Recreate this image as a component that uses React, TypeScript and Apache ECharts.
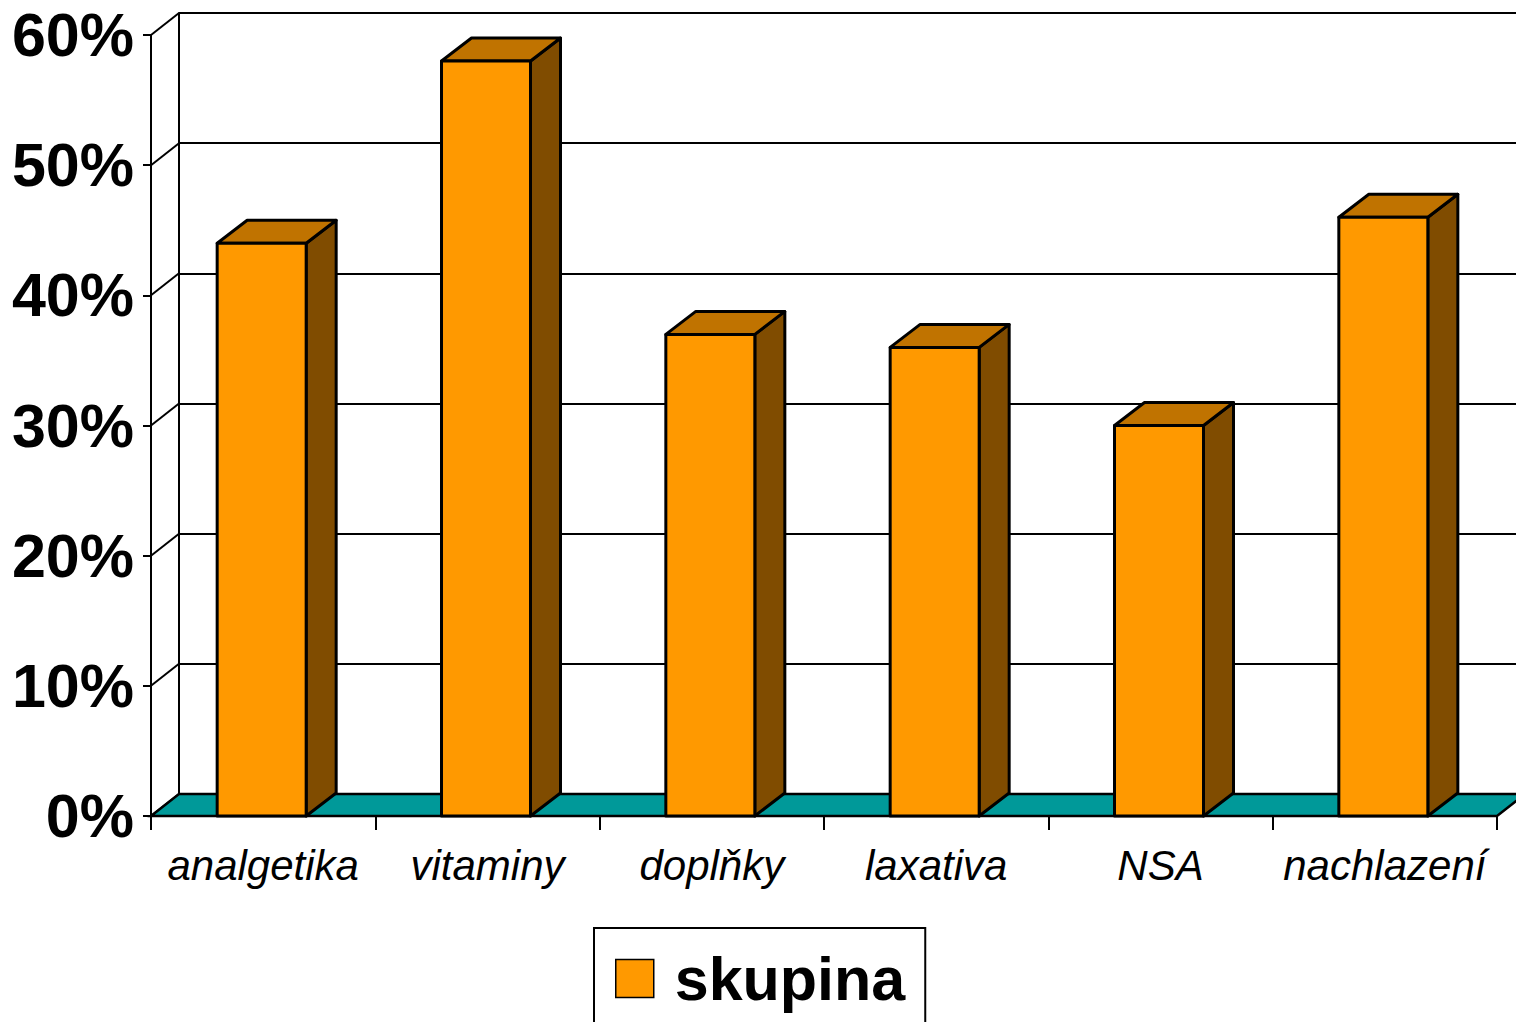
import React, { useEffect, useRef } from "react";
import * as echarts from "echarts";

const categories = ["analgetika", "vitaminy", "doplňky", "laxativa", "NSA", "nachlazení"];
const values = [44, 58, 37, 36, 30, 46];
const tickValues = [0, 10, 20, 30, 40, 50, 60];
const seriesName = "skupina";

const FONT = "'Liberation Sans', Arial, Helvetica, sans-serif";
const FRONT = "#FF9900";
const SIDE = "#804C00";
const TOP = "#C07300";
const FLOOR = "#009999";
const WALL_DX = 28;
const WALL_DY = -22;
const BAR_DX = 30;
const BAR_DY = -23;
const BAR_W = 89;

export default function App() {
  const ref = useRef<HTMLDivElement>(null);
  useEffect(() => {
    document.body.style.margin = "0";
    document.body.style.overflow = "hidden";
    const chart = echarts.init(ref.current!, null, { renderer: "svg" });
    const option: any = {
      animation: false,
      backgroundColor: "#ffffff",
      grid: [
        { left: 151, top: 35, width: 1346, height: 781, containLabel: false },
        { left: 151 + WALL_DX, top: 35 + WALL_DY, width: 1346, height: 781, containLabel: false },
      ],
      legend: {
        data: [seriesName],
        left: 594,
        top: 928,
        orient: "horizontal",
        icon: "rect",
        itemWidth: 38,
        itemHeight: 38,
        borderColor: "#000",
        borderWidth: 2,
        padding: [20, 20, 40, 21],
        selectedMode: false,
        itemStyle: { borderColor: "#000", borderWidth: 1.5 },
        textStyle: {
          fontFamily: FONT,
          fontWeight: "bold",
          fontSize: 61,
          color: "#000",
          lineHeight: 60,
          padding: [0, 0, 0, 16],
        },
      },
      xAxis: [
        {
          type: "category",
          gridIndex: 0,
          data: categories,
          boundaryGap: true,
          axisLine: { show: true, lineStyle: { color: "#000", width: 2 } },
          axisTick: { show: true, length: 14, lineStyle: { color: "#000", width: 2 } },
          axisLabel: {
            color: "#000",
            fontFamily: FONT,
            fontStyle: "italic",
            fontSize: 42,
            margin: 28,
            interval: 0,
          },
          splitLine: { show: false },
          z: 5,
        },
        {
          type: "category",
          gridIndex: 1,
          data: categories,
          show: false,
        },
      ],
      yAxis: [
        {
          type: "value",
          gridIndex: 0,
          min: 0,
          max: 60,
          interval: 10,
          axisLine: { show: true, lineStyle: { color: "#000", width: 2 } },
          axisTick: { show: true, length: 8, lineStyle: { color: "#000", width: 2 } },
          axisLabel: {
            color: "#000",
            fontFamily: FONT,
            fontWeight: "bold",
            fontSize: 61,
            margin: 17,
            formatter: "{value}%",
          },
          splitLine: { show: false },
          z: 5,
        },
        {
          type: "value",
          gridIndex: 1,
          min: 0,
          max: 60,
          interval: 10,
          axisLine: { show: true, lineStyle: { color: "#000", width: 2 } },
          axisTick: { show: false },
          axisLabel: { show: false },
          splitLine: { show: true, lineStyle: { color: "#000", width: 2 } },
        },
      ],
      series: [
        {
          type: "custom",
          name: "wall",
          xAxisIndex: 0,
          yAxisIndex: 0,
          z: 1,
          silent: true,
          data: tickValues.map((v) => [0, v]),
          renderItem: (params: any, api: any) => {
            const cs = params.coordSys;
            const y = api.coord([0, api.value(1)])[1];
            return {
              type: "line",
              shape: { x1: cs.x, y1: y, x2: cs.x + WALL_DX, y2: y + WALL_DY },
              style: { stroke: "#000", lineWidth: 2 },
            };
          },
        },
        {
          type: "custom",
          name: "floor",
          xAxisIndex: 0,
          yAxisIndex: 0,
          z: 2,
          silent: true,
          data: [[0, 0]],
          renderItem: (params: any, api: any) => {
            const cs = params.coordSys;
            const y0 = api.coord([0, 0])[1];
            return {
              type: "polygon",
              shape: {
                points: [
                  [cs.x, y0],
                  [cs.x + WALL_DX, y0 + WALL_DY],
                  [cs.x + cs.width + WALL_DX, y0 + WALL_DY],
                  [cs.x + cs.width, y0],
                ],
              },
              style: { fill: FLOOR, stroke: "#000", lineWidth: 2.5 },
            };
          },
        },
        {
          type: "custom",
          name: seriesName,
          xAxisIndex: 0,
          yAxisIndex: 0,
          z: 3,
          itemStyle: { color: FRONT },
          data: values.map((v, i) => [i, v]),
          renderItem: (params: any, api: any) => {
            const idx = api.value(0);
            const c = api.coord([idx, api.value(1)]);
            const b = api.coord([idx, 0]);
            const left = c[0] - 1.5 - BAR_W / 2;
            const right = left + BAR_W;
            const top = c[1];
            const bottom = b[1];
            const stroke = { stroke: "#000", lineWidth: 3, lineJoin: "round" };
            return {
              type: "group",
              children: [
                {
                  type: "polygon",
                  shape: {
                    points: [
                      [right, bottom],
                      [right + BAR_DX, bottom + BAR_DY],
                      [right + BAR_DX, top + BAR_DY],
                      [right, top],
                    ],
                  },
                  style: { fill: SIDE, ...stroke },
                },
                {
                  type: "polygon",
                  shape: {
                    points: [
                      [left, top],
                      [left + BAR_DX, top + BAR_DY],
                      [right + BAR_DX, top + BAR_DY],
                      [right, top],
                    ],
                  },
                  style: { fill: TOP, ...stroke },
                },
                {
                  type: "rect",
                  shape: { x: left, y: top, width: BAR_W, height: bottom - top },
                  style: { fill: FRONT, ...stroke },
                },
              ],
            };
          },
        },
      ],
    };
    chart.setOption(option);
    return () => chart.dispose();
  }, []);
  return <div ref={ref} style={{ width: 1516, height: 1022 }} />;
}
